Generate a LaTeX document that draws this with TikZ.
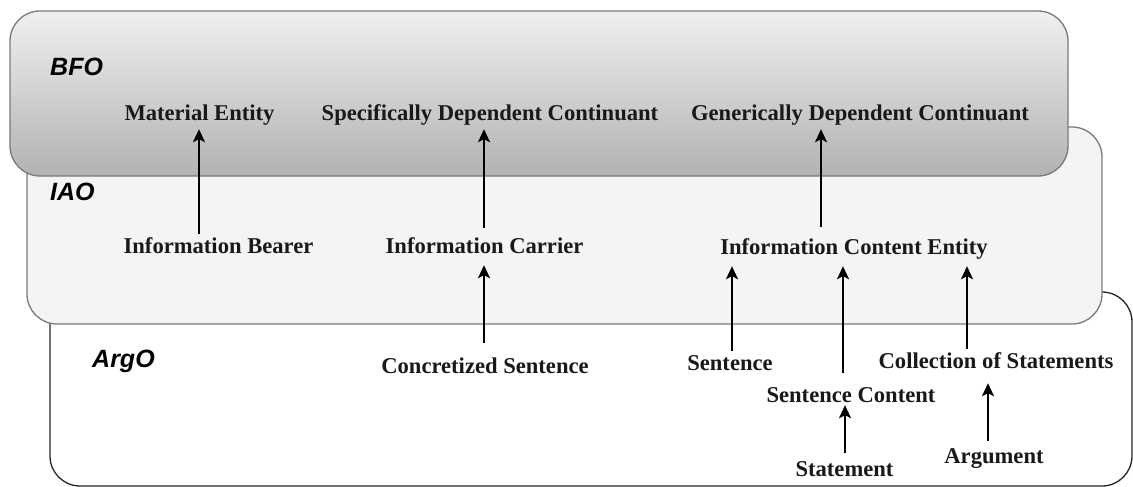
\documentclass[tikz,border=0pt]{standalone}
\usepackage{fontspec}
\setmainfont{Liberation Serif}
\setsansfont{Liberation Sans}
\usetikzlibrary{arrows.meta}
\definecolor{bfotop}{HTML}{F0F0F0}
\definecolor{bfobot}{HTML}{B2B2B2}
\definecolor{iaofill}{HTML}{F4F4F4}
\definecolor{boxline}{HTML}{7A7A7A}
\tikzset{
  lbl/.style={anchor=base, font=\fontsize{22.6}{25}\selectfont\bfseries, text height=15pt, text depth=5pt, inner sep=4pt, text=black!90},
  onto/.style={anchor=base west, font=\fontsize{25}{28}\selectfont\sffamily\bfseries\itshape, inner sep=0pt},
  arr/.style={line width=1.9pt, -{Stealth[length=13pt,width=12pt,inset=3pt]}},
  ontobox/.style={rounded corners=30pt, line width=1.3pt}
}
\begin{document}
\begin{tikzpicture}[x=1pt,y=-1pt]
\useasboundingbox (0,0) rectangle (1133,487);
% boxes
\draw[ontobox, draw=black!85, fill=white] (50,292) rectangle (1132,486);
\draw[ontobox, draw=boxline, fill=iaofill] (27,127) rectangle (1102,324);
\draw[ontobox, draw=boxline, top color=bfotop, bottom color=bfobot] (10,11) rectangle (1068,176);
% ontology labels
\node[onto] (bfo) at (50,75) {BFO};
\node[onto] (iao) at (50,200) {IAO};
\node[onto] (argo) at (92,367) {ArgO};
% class nodes
\node[lbl] (me) at (199.5,120) {Material Entity};
\node[lbl] (sdc) at (490,120) {Specifically Dependent Continuant};
\node[lbl] (gdc) at (860,120) {Generically Dependent Continuant};
\node[lbl] (ib) at (218.5,253) {Information Bearer};
\node[lbl] (ic) at (484.5,253) {Information Carrier};
\node[lbl] (ice) at (854,254) {Information Content Entity};
\node[lbl] (cs) at (485,373) {Concretized Sentence};
\node[lbl] (sen) at (730,370) {Sentence};
\node[lbl] (coll) at (996,368) {Collection of Statements};
\node[lbl] (sc) at (851,402) {Sentence Content};
\node[lbl] (stm) at (844.5,476) {Statement};
\node[lbl] (arg) at (994,463) {Argument};
% x positions of connectors
\coordinate (x1) at (199,0);
\coordinate (x2) at (484,0);
\coordinate (x3) at (821,0);
\coordinate (x4) at (732,0);
\coordinate (x5) at (843,0);
\coordinate (x6) at (967,0);
\coordinate (x8) at (845,0);
\coordinate (x9) at (988,0);
% connectors
\draw[arr] (ib.north -| x1) -- (me.south -| x1);
\draw[arr, shorten <=6pt] (ic.north -| x2) -- (sdc.south -| x2);
\draw[arr, shorten <=8pt] (ice.north -| x3) -- (gdc.south -| x3);
\draw[arr, shorten >=3pt] (sen.north -| x4) -- (ice.south -| x4);
\draw[arr, shorten <=10pt, shorten >=3pt] (sc.north -| x5) -- (ice.south -| x5);
\draw[arr, shorten >=3pt] (coll.north -| x6) -- (ice.south -| x6);
\draw[arr, shorten <=11pt, shorten >=3pt] (cs.north -| x2) -- (ic.south -| x2);
\draw[arr, shorten <=4pt, shorten >=-6pt] (stm.north -| x8) -- (sc.south -| x8);
\draw[arr, shorten <=3pt, shorten >=6pt] (arg.north -| x9) -- (coll.south -| x9);
\end{tikzpicture}
\end{document}
